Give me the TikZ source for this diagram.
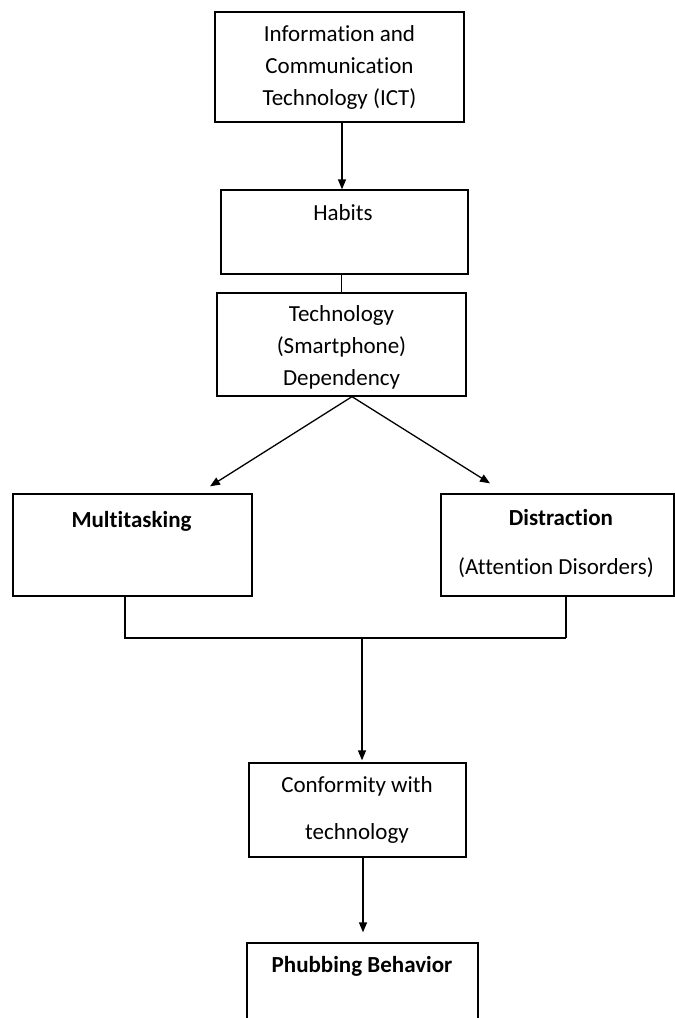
\documentclass[tikz,border=0pt]{standalone}
\usepackage{fontspec}
\setmainfont[Ligatures=NoCommon]{Carlito}
\usetikzlibrary{arrows.meta}
\begin{document}
\begin{tikzpicture}[x=1pt,y=-1pt,
  box/.style={draw=black, line width=1.3pt, rectangle, inner sep=0pt, align=center,
    font=\fontsize{23}{32}\selectfont},
  lbl/.style={inner sep=0pt, align=center, text height=16pt, text depth=5pt,
    font=\fontsize{23}{32}\selectfont},
  conn/.style={line width=1.3pt, draw=black},
  arr/.style={conn, -{Triangle[length=10pt,width=8pt]}}
]
\path[use as bounding box, clip] (0,0) rectangle (675,1018);
\fill[white] (0,0) rectangle (675,1018);

% boxes
\node[box, minimum width=249pt, minimum height=110pt] (ict) at (339.5,67)
  {Information and\\Communication\\Technology (ICT)};
\node[box, minimum width=247pt, minimum height=84pt] (habits) at (344.5,232) {};
\node[box, minimum width=249pt, minimum height=103pt] (dep) at (341.5,344.5) {};
\node[box, minimum width=239pt, minimum height=102pt] (multi) at (132.5,545) {};
\node[box, minimum width=233pt, minimum height=102pt] (dist) at (557.5,545) {};
\node[box, minimum width=217pt, minimum height=94pt] (conf) at (357.5,810) {};
\node[box, minimum width=231pt, minimum height=100pt] (phub) at (362.5,993) {};

% texts
\node[lbl] (habits-t) at (343,215) {Habits};
\node[lbl, text height=, text depth=] (dep-t) at (341.5,347) {Technology\\(Smartphone)\\Dependency};
\node[lbl] (multi-t) at (131.5,522) {\bfseries Multitasking};
\node[lbl] (dist-t1) at (561,520) {\bfseries Distraction};
\node[lbl] (dist-t2) at (556,569) {(Attention Disorders)};
\node[lbl] (conf-t1) at (357,787) {Conformity with};
\node[lbl] (conf-t2) at (357,834) {technology};
\node[lbl] (phub-t) at (362,967) {\bfseries Phubbing Behavior};

% connectors
\draw[arr] ([xshift=2.5pt]ict.south) -- ([xshift=-2.5pt]habits.north);
\draw[conn] (dep.north |- habits.south) -- (dep.north);
\draw[arr] ([xshift=10.5pt]dep.south) -- ([xshift=77.5pt,yshift=7pt]multi.north);
\draw[arr] ([xshift=10.5pt]dep.south) -- ([xshift=-67.5pt,yshift=10pt]dist.north);

\coordinate (jl) at (125,638);
\coordinate (jr) at (566,638);
\coordinate (jm) at (362,638);
\draw[conn] ([xshift=-7.5pt]multi.south) -- (jl) -- (jr);
\draw[conn] ([xshift=8.5pt]dist.south) -- (jr);
\draw[arr] (jm) -- ([xshift=4.5pt,yshift=2pt]conf.north);
\draw[arr, shorten >=10pt] ([xshift=5.5pt]conf.south) -- ([xshift=0.5pt]phub.north);
\end{tikzpicture}
\end{document}
